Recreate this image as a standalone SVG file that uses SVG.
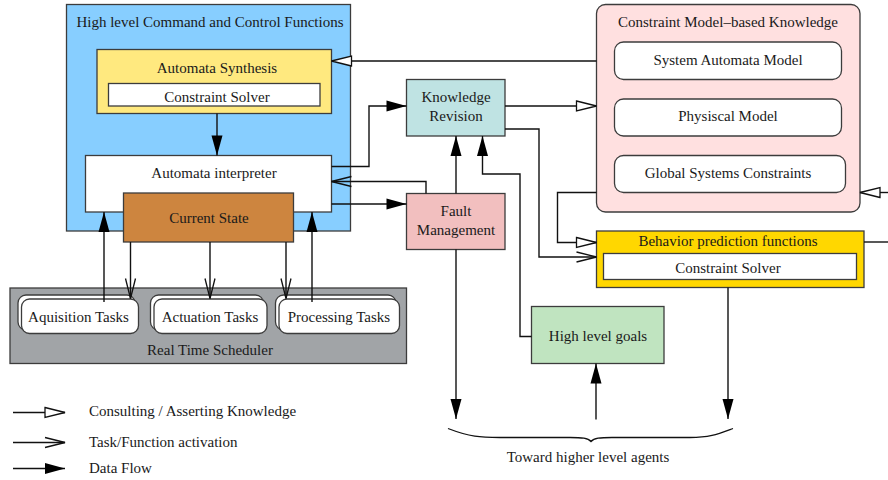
<svg xmlns="http://www.w3.org/2000/svg" width="888" height="480" viewBox="0 0 888 480">
<style>
text{font-family:"Liberation Serif","Times New Roman",serif;font-size:15px;fill:#1a1a1a;text-anchor:middle}
.lt{text-anchor:start}
.box{stroke:#3c3c3c;stroke-width:1.3}
.c{fill:none;stroke:#111;stroke-width:1.4}
.df{marker-end:url(#filled)}
.ck{marker-end:url(#opentri)}
.ta{marker-end:url(#openv)}
</style>
<defs>
<marker id="filled" markerUnits="userSpaceOnUse" markerWidth="22" markerHeight="12" refX="20" refY="5.5" orient="auto" overflow="visible"><path d="M0,0 L20,5.5 L0,11 Z" fill="#000"/></marker>
<marker id="opentri" markerUnits="userSpaceOnUse" markerWidth="22" markerHeight="12" refX="20" refY="5.5" orient="auto" overflow="visible"><path d="M0,0.5 L20,5.5 L0,10.5 Z" fill="#fff" stroke="#111" stroke-width="1.3"/></marker>
<marker id="openv" markerUnits="userSpaceOnUse" markerWidth="22" markerHeight="12" refX="20" refY="5.5" orient="auto" overflow="visible"><path d="M0,0.5 L20,5.5 L0,10.5" fill="none" stroke="#111" stroke-width="1.3"/></marker>
</defs>

<g id="command-control">
<rect class="box" x="66.5" y="4.5" width="284" height="226.5" fill="#87CEFF"/>
<text x="210" y="27">High level Command and Control Functions</text>
</g>
<g id="automata-synthesis">
<rect class="box" x="97" y="49.5" width="234.5" height="64" fill="#FFE97F"/>
<text x="217" y="72.5">Automata Synthesis</text>
<rect class="box" x="108.5" y="83.5" width="211.5" height="22.5" fill="#fff"/>
<text x="217" y="101.5">Constraint Solver</text>
</g>
<g id="automata-interpreter">
<rect class="box" x="85.5" y="155.5" width="246" height="56.5" fill="#fff"/>
<text x="214" y="177.5">Automata interpreter</text>
</g>
<g id="current-state">
<rect class="box" x="123.5" y="193" width="170" height="49" fill="#CD853F"/>
<text x="209" y="222.5">Current State</text>
</g>
<g id="real-time-scheduler">
<rect class="box" x="10" y="288" width="396.5" height="75.5" fill="#A1A4A7"/>
<text x="210" y="355">Real Time Scheduler</text>
</g>
<g id="aquisition-tasks">
<rect class="box" x="18" y="295" width="117" height="35" rx="8" fill="#fff"/>
<rect class="box" x="21.5" y="299" width="117" height="34.5" rx="8" fill="#fff"/>
<text x="78.5" y="322">Aquisition Tasks</text>
</g>
<g id="actuation-tasks">
<rect class="box" x="150.5" y="295" width="113" height="35" rx="8" fill="#fff"/>
<rect class="box" x="154" y="299" width="113" height="34.5" rx="8" fill="#fff"/>
<text x="210" y="322">Actuation Tasks</text>
</g>
<g id="processing-tasks">
<rect class="box" x="275.5" y="295" width="120.5" height="35" rx="8" fill="#fff"/>
<rect class="box" x="279" y="299" width="120.5" height="34.5" rx="8" fill="#fff"/>
<text x="339" y="322">Processing Tasks</text>
</g>
<g id="knowledge-revision">
<rect class="box" x="406.5" y="79.5" width="98.5" height="56.5" fill="#BFE3E3"/>
<text x="456" y="101.5">Knowledge</text>
<text x="456" y="120.5">Revision</text>
</g>
<g id="fault-management">
<rect class="box" x="406.5" y="193.5" width="98.5" height="56" fill="#F2BFBF"/>
<text x="456" y="216">Fault</text>
<text x="456" y="235">Management</text>
</g>
<g id="constraint-model">
<rect class="box" x="596.5" y="4.5" width="263.5" height="207.5" rx="9" fill="#FFE0E0"/>
<text x="728" y="27">Constraint Model–based Knowledge</text>
<rect class="box" x="614.5" y="42" width="227" height="37.5" rx="9" fill="#fff"/>
<text x="728" y="65">System Automata Model</text>
<rect class="box" x="614.5" y="99" width="227" height="37" rx="9" fill="#fff"/>
<text x="728" y="121">Physiscal Model</text>
<rect class="box" x="614.5" y="155.5" width="231" height="37" rx="9" fill="#fff"/>
<text x="728" y="178">Global Systems Constraints</text>
</g>
<g id="behavior-prediction">
<rect class="box" x="596.5" y="231" width="267.5" height="56.5" fill="#FFD700"/>
<text x="728" y="246">Behavior prediction functions</text>
<rect class="box" x="603.5" y="253.5" width="253" height="26" fill="#fff"/>
<text x="728" y="273">Constraint Solver</text>
</g>
<g id="high-level-goals">
<rect class="box" x="531.5" y="306.5" width="132.5" height="57" fill="#C0E4C0"/>
<text x="598" y="341">High level goals</text>
</g>
<g id="higher-level-agents">
<path d="M448,428.5 C470,437 480,437.5 500,437.5 L570,437.5 C582,437.5 588,438 591,441.5 C594,438 600,437.5 612,437.5 L690,437.5 C710,437.5 718,434 733,428.5" fill="none" stroke="#111" stroke-width="1.3"/>
<text x="588" y="462">Toward higher level agents</text>
</g>

<g id="connectors">
<path class="c df" d="M217,113.5 L217,155.5"/>
<path class="c ck" d="M596.5,61 L331.5,61"/>
<path class="c df" d="M331.5,166.5 L369,166.5 L369,106 L406.5,106"/>
<path class="c ta" d="M426,193.5 L426,181.5 L331.5,181.5"/>
<path class="c df" d="M331.5,204 L406.5,204"/>
<path class="c df" d="M456,193.5 L456,136"/>
<path class="c df" d="M531.5,336.5 L520,336.5 L520,174 L482.5,174 L482.5,136"/>
<path class="c ck" d="M505,106 L596.5,106"/>
<path class="c ta" d="M505,129 L539,129 L539,257 L596.5,257"/>
<path class="c ck" d="M596.5,192.5 L557.5,192.5 L557.5,242.5 L596.5,242.5"/>
<path class="c ck" d="M890,192.5 L860,192.5"/>
<path class="c" d="M864,242 L890,242"/>
<path class="c df" d="M728,287.5 L728,419"/>
<path class="c df" d="M456,249.5 L456,419"/>
<path class="c df" d="M596,419.5 L596,363.5"/>
<path class="c df" d="M104,302 L104,212"/>
<path class="c df" d="M312,302 L312,212"/>
<path class="c ta" d="M130.5,242 L130.5,298.5"/>
<path class="c ta" d="M210,242 L210,298.5"/>
<path class="c ta" d="M286,242 L286,298.5"/>
</g>

<g id="legend">
<path class="c ck" d="M13,412.5 L65,412.5"/>
<text class="lt" x="89" y="416">Consulting / Asserting Knowledge</text>
<path class="c ta" d="M13,442.5 L65,442.5"/>
<text class="lt" x="89" y="446.5">Task/Function activation</text>
<path class="c df" d="M13,468.5 L65,468.5"/>
<text class="lt" x="89" y="472.5">Data Flow</text>
</g>
</svg>
